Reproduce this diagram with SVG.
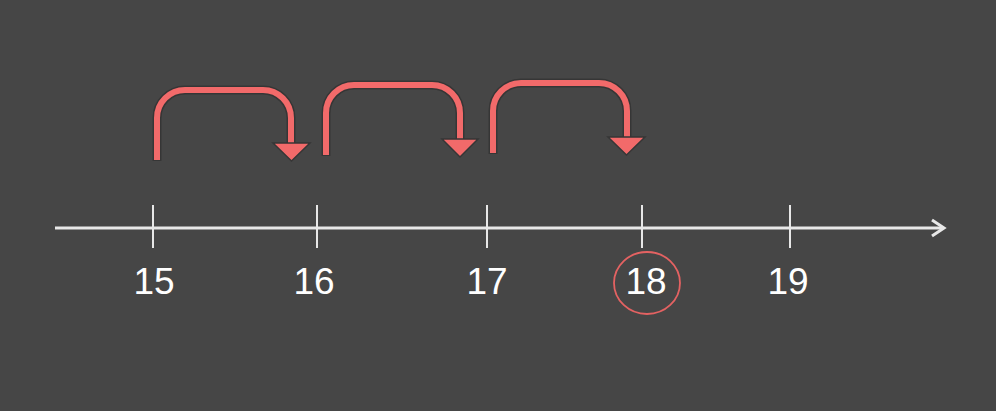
<svg xmlns="http://www.w3.org/2000/svg" width="996" height="411" viewBox="0 0 996 411">
<style>
.out{fill:none;stroke:#363636;stroke-width:9;stroke-linejoin:round}
.jump{fill:none;stroke:#f26a6a;stroke-width:6}
.head{fill:#f26a6a;stroke:#363636;stroke-width:1.5;stroke-linejoin:miter}
.tick{stroke:#e8e8e8;stroke-width:2}
.lbl{font-family:"Liberation Sans",Arial,sans-serif;font-size:37px;fill:#ffffff;text-anchor:middle}
</style>
<rect width="996" height="411" fill="#464646"/>
<g id="connectors">
<line x1="55" y1="228" x2="943" y2="228" stroke="#e8e8e8" stroke-width="3"/>
<polyline points="932,220 944,228 932,236" fill="none" stroke="#e8e8e8" stroke-width="3"/>
</g>
<g id="ticks">
<line class="tick" x1="153" y1="205" x2="153" y2="248"/>
<line class="tick" x1="317" y1="205" x2="317" y2="248"/>
<line class="tick" x1="487" y1="205" x2="487" y2="248"/>
<line class="tick" x1="642" y1="205" x2="642" y2="248"/>
<line class="tick" x1="790" y1="205" x2="790" y2="248"/>
</g>
<g id="labels">
<text class="lbl" x="154" y="294">15</text>
<text class="lbl" x="314" y="294">16</text>
<text class="lbl" x="487" y="294">17</text>
<text class="lbl" x="646" y="294">18</text>
<text class="lbl" x="788" y="294">19</text>
<ellipse cx="647" cy="283" rx="33" ry="31" fill="none" stroke="#e46262" stroke-width="1.8"/>
</g>
<g id="jump1">
<path class="out" d="M157,161 V118 A28,28 0 0 1 185,90 H263 A28,28 0 0 1 291,118 V145"/>
<path class="jump" d="M157,160 V118 A28,28 0 0 1 185,90 H263 A28,28 0 0 1 291,118 V146"/>
<polygon class="head" points="273,143 310,143 291.5,161"/>
</g>
<g id="jump2">
<path class="out" d="M326,156 V113 A28,28 0 0 1 354,85 H432 A28,28 0 0 1 460,113 V141"/>
<path class="jump" d="M326,155 V113 A28,28 0 0 1 354,85 H432 A28,28 0 0 1 460,113 V142"/>
<polygon class="head" points="442,139 478,139 460,157"/>
</g>
<g id="jump3">
<path class="out" d="M493,154 V111 A28,28 0 0 1 521,83 H599 A28,28 0 0 1 627,111 V139"/>
<path class="jump" d="M493,153 V111 A28,28 0 0 1 521,83 H599 A28,28 0 0 1 627,111 V140"/>
<polygon class="head" points="608,137 645,137 626.5,155"/>
</g>
</svg>
